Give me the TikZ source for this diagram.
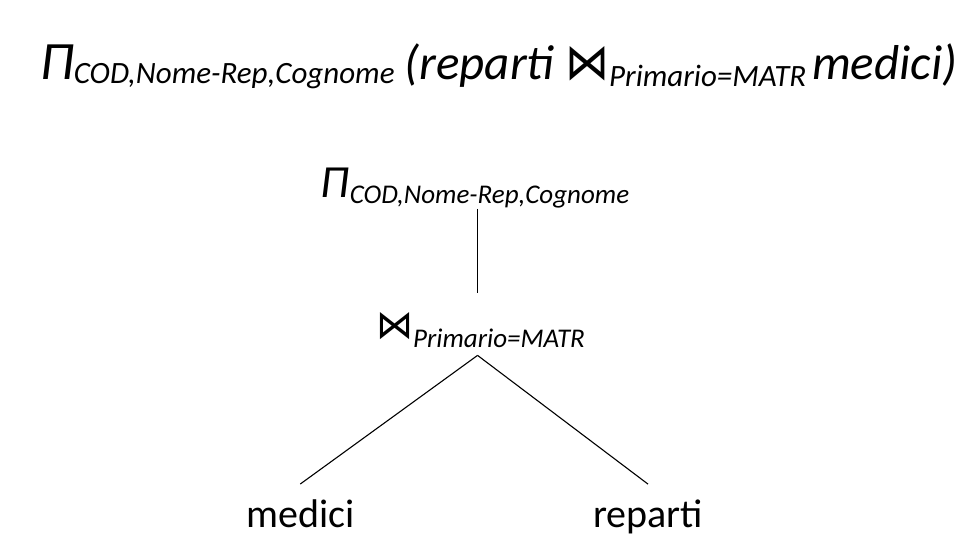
\documentclass[tikz,border=0pt]{standalone}
\usepackage{fontspec}
\usepackage{graphicx}
\setmainfont{Carlito}
\newfontfamily\joinfont{DejaVu Sans}
\usetikzlibrary{positioning}

% lowered subscript: size, drop, text
\newcommand{\lowsub}[3]{\raisebox{-#2}{\fontsize{#1}{#1}\selectfont\itshape #3}}
% join symbol: width, height, lift
\newcommand{\joinsym}[3]{\raisebox{#3}{\resizebox{#1}{#2}{\joinfont\itshape ⋈}}}

\begin{document}
\begin{tikzpicture}[
  x=1pt, y=-1pt,
  expr/.style  = {anchor=base west, inner sep=0pt, font=\fontsize{49}{56}\selectfont\itshape},
  op/.style    = {anchor=base west, inner sep=0pt, font=\fontsize{46}{52}\selectfont\itshape},
  leaf/.style  = {anchor=base west, inner sep=0pt, font=\fontsize{40}{46}\selectfont},
  edge/.style  = {line width=1.1pt, black}
]
\useasboundingbox (0,0) rectangle (970,547);

\node[expr] (query) at (40,79)
  {{\fontsize{54}{56}\selectfont Π}\lowsub{31}{4pt}{COD,Nome-Rep,Cognome}\hspace{10pt}(reparti\hspace{11pt}%
   \joinsym{44pt}{33pt}{0pt}\lowsub{31}{7pt}{Primario=MATR}\hspace{6pt}medici)};

\node[op]   (proj)   at (320,197) {Π\hspace{1pt}\lowsub{27}{6pt}{COD,Nome-Rep,Cognome}};
\node[op]   (join)   at (376,341) {\joinsym{37pt}{26pt}{3pt}\lowsub{27}{6pt}{Primario=MATR}};
\node[leaf] (medici) at (246,527) {medici};
\node[leaf] (reparti) at (593,527) {reparti};

\draw[edge] ([xshift=-3pt,yshift=-1pt]join.north |- proj.south) -- ([xshift=-3pt,yshift=19pt]join.north);
\draw[edge] ([xshift=-3pt,yshift=-8pt]join.south) -- ([yshift=15pt]medici.north);
\draw[edge] ([xshift=-3pt,yshift=-8pt]join.south) -- ([yshift=15pt]reparti.north);
\end{tikzpicture}
\end{document}
